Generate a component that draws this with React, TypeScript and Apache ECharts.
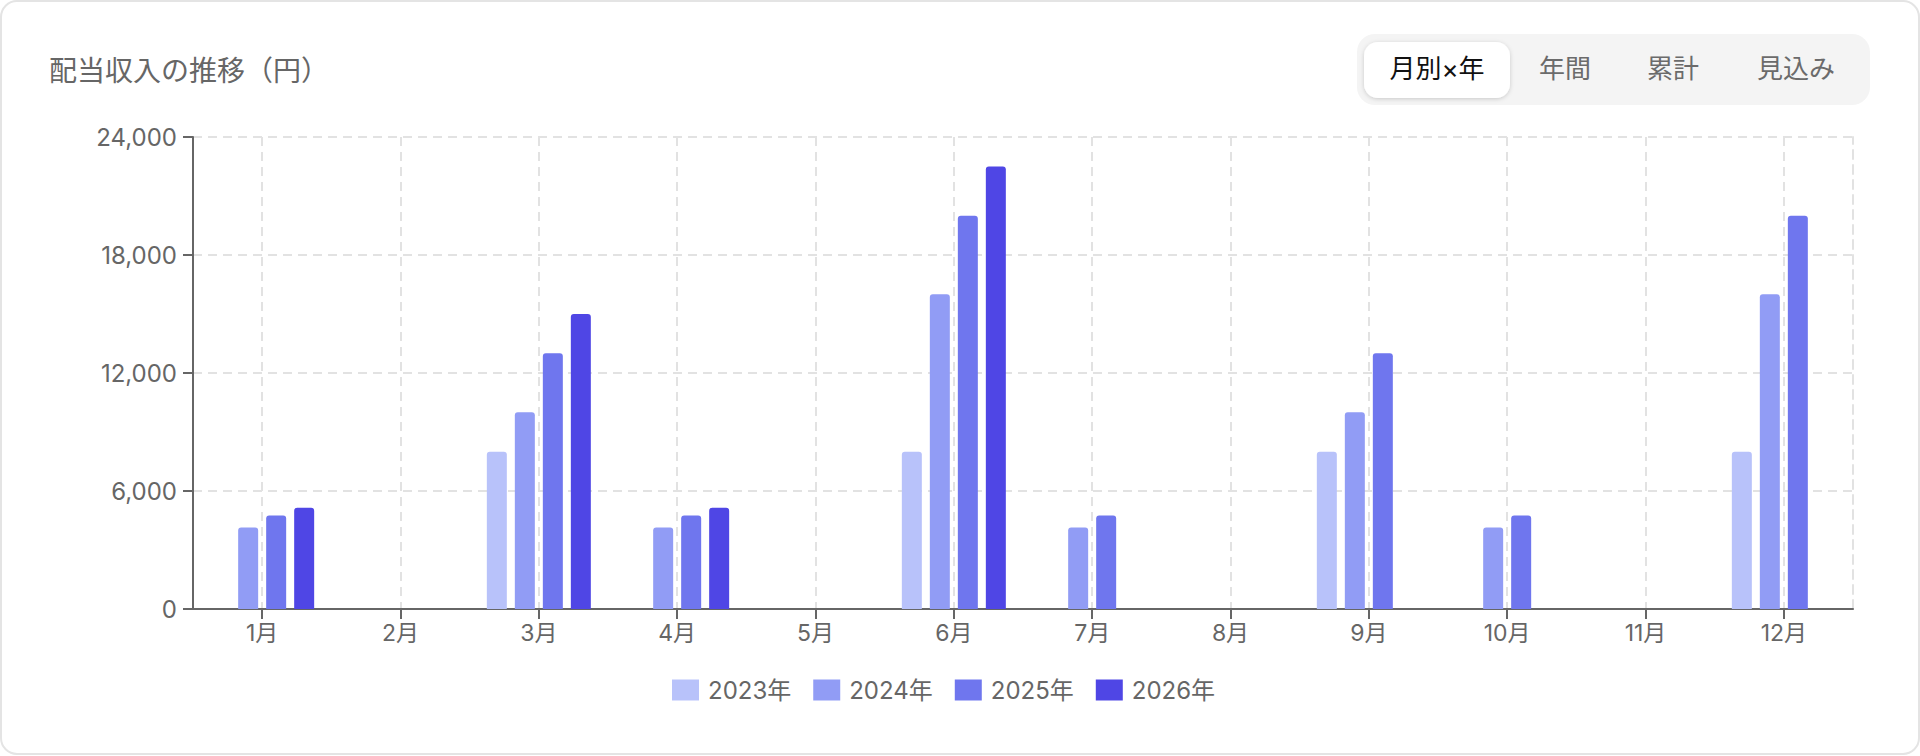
import React, { useEffect, useRef } from "react";
import * as echarts from "echarts";

const months = ["1月", "2月", "3月", "4月", "5月", "6月", "7月", "8月", "9月", "10月", "11月", "12月"];
const seriesNames = ["2023年", "2024年", "2025年", "2026年"];
const seriesColors = ["#B8C2FA", "#919CF5", "#6F76EE", "#4F46E5"];
const values2023 = [null, null, 8000, null, null, 8000, null, null, 8000, null, null, 8000];
const values2024 = [4150, null, 10000, 4150, null, 16000, 4150, null, 10000, 4150, null, 16000];
const values2025 = [4750, null, 13000, 4750, null, 20000, 4750, null, 13000, 4750, null, 20000];
const values2026 = [5150, null, 15000, 5150, null, 22500, null, null, null, null, null, null];
const yMin = 0;
const yMax = 24000;
const yStep = 6000;
const titleText = "配当収入の推移（円）";
const tabLabels = ["月別×年", "年間", "累計", "見込み"];
const tabCenters = [1437, 1565, 1673, 1796];

const FONT = 'Inter, "Noto Sans CJK JP", sans-serif';
const CJK = '"Noto Sans CJK JP", sans-serif';

export default function App() {
  const ref = useRef<HTMLDivElement>(null);
  useEffect(() => {
    if (!ref.current) return;
    const chart = echarts.init(ref.current, null, { renderer: "svg" });
    const allValues = [values2023, values2024, values2025, values2026];
    const series = allValues.map((vals, i) => ({
      name: seriesNames[i],
      type: "bar",
      data: vals,
      barWidth: 20,
      barGap: "40%",
      itemStyle: { color: seriesColors[i], borderRadius: [3, 3, 0, 0] },
      z: 3,
    }));
    const graphic: any[] = [
      {
        type: "rect",
        z: -10,
        shape: { x: 1, y: 1, width: 1918, height: 753, r: 16 },
        style: { fill: "#ffffff", stroke: "#e4e4e4", lineWidth: 2 },
        silent: true,
      },
      {
        type: "text",
        style: {
          text: titleText,
          x: 49,
          y: 69,
          verticalAlign: "middle",
          fontSize: 28,
          fontFamily: CJK,
          fill: "#666666",
        },
      },
      {
        type: "rect",
        shape: { x: 1357, y: 34, width: 513, height: 71, r: 18 },
        style: { fill: "#f4f4f4" },
        silent: true,
      },
      {
        type: "rect",
        shape: { x: 1364, y: 42, width: 146, height: 56, r: 14 },
        style: {
          fill: "#ffffff",
          shadowBlur: 4,
          shadowOffsetY: 1,
          shadowColor: "rgba(0,0,0,0.18)",
        },
        silent: true,
      },
    ];
    tabLabels.forEach((t, i) => {
      graphic.push({
        type: "text",
        style: {
          text: t,
          x: tabCenters[i],
          y: 68,
          align: "center",
          verticalAlign: "middle",
          fontSize: 26,
          fontFamily: FONT,
          fill: i === 0 ? "#111111" : "#6b6b6b",
        },
      });
    });

    chart.setOption({
      animation: false,
      textStyle: { fontFamily: FONT },
      grid: { left: 193, right: 67, top: 137, bottom: 147, containLabel: false },
      legend: {
        left: 672,
        top: 678,
        padding: 0,
        itemWidth: 27,
        itemHeight: 21,
        itemGap: 22,
        icon: "rect",
        selectedMode: false,
        data: seriesNames,
        textStyle: { fontSize: 24, color: "#666666", fontFamily: FONT, padding: [0, 0, 0, 4] },
      },
      xAxis: [
        {
          type: "category",
          data: months,
          axisLine: { show: true, lineStyle: { color: "#666666", width: 2 } },
          axisTick: { show: true, alignWithLabel: true, length: 10, lineStyle: { color: "#666666", width: 2 } },
          axisLabel: { color: "#666666", fontSize: 23, margin: 12, fontFamily: FONT },
          splitLine: { show: true, alignWithLabel: true, lineStyle: { color: "#e2e2e2", type: [9, 6], width: 2 } },
        },
      ],
      yAxis: [
        {
          type: "value",
          min: yMin,
          max: yMax,
          interval: yStep,
          axisLine: { show: true, lineStyle: { color: "#666666", width: 2 } },
          axisTick: { show: true, length: 10, lineStyle: { color: "#666666", width: 2 } },
          axisLabel: {
            color: "#666666",
            fontSize: 24,
            margin: 16,
            fontFamily: FONT,
            formatter: (v: number) => v.toLocaleString("en-US"),
          },
          splitLine: { show: true, lineStyle: { color: "#e2e2e2", type: [9, 6], width: 2 } },
        },
        {
          type: "value",
          position: "right",
          min: yMin,
          max: yMax,
          interval: yStep,
          axisLine: { show: true, lineStyle: { color: "#e2e2e2", type: [9, 6], width: 2 } },
          axisTick: { show: false },
          axisLabel: { show: false },
          splitLine: { show: false },
        },
      ],
      series,
      graphic,
    });
    return () => chart.dispose();
  }, []);
  return (
    <div
      ref={ref}
      style={{ position: "absolute", left: 0, top: 0, width: 1920, height: 756 }}
    />
  );
}
